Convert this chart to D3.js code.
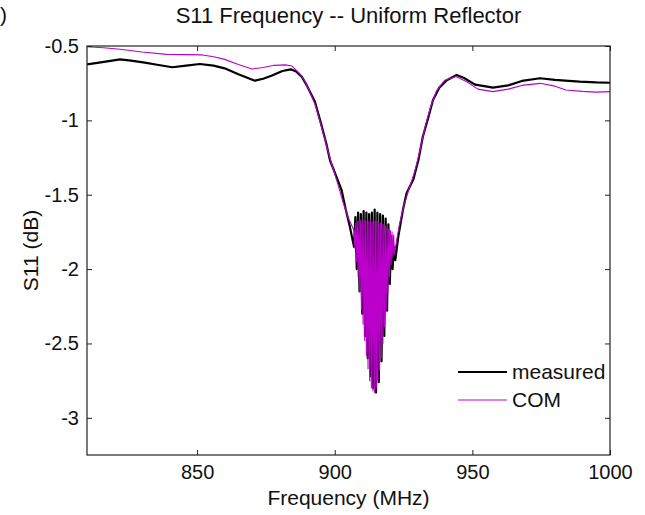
<!DOCTYPE html>
<html><head><meta charset="utf-8">
<script src="https://cdn.jsdelivr.net/npm/d3@7"></script>
<style>body{margin:0;background:#fff}svg{display:block}text{font-family:Arial,"Liberation Sans",sans-serif;fill:#111}</style>
</head><body><svg id="c" width="645" height="515"></svg>
<script>
// ---- data ----
const measuredFreq = [810,815,822,826,831,836,841,846,851,856,860,865,871,874,877,881,884,886,888,890,892.8,895,897,898.3,900,902.5,904,905.5,
 907.0,907.5,908.0,908.5,909.0,909.5,910.0,910.5,911.0,911.5,912.0,912.5,913.0,913.5,914.0,914.5,915.0,915.5,916.0,916.5,917.0,917.5,918.0,918.5,919.0,919.5,920.0,920.5,921.0,921.5,922.0,
 923.1,924.8,926.1,928.5,930.4,932,934,935.7,938,940.7,944.3,947,951,957.5,963,968,974.6,980,985,989,995,1000];
const measuredS11 = [-0.623,-0.61,-0.59,-0.598,-0.612,-0.628,-0.643,-0.632,-0.621,-0.632,-0.65,-0.69,-0.733,-0.72,-0.70,-0.668,-0.657,-0.672,-0.706,-0.77,-0.875,-1.02,-1.16,-1.27,-1.35,-1.47,-1.6,-1.716,
 -1.85,-1.65,-2.00,-1.62,-2.15,-1.63,-2.30,-1.61,-2.45,-1.62,-2.60,-1.63,-2.72,-1.62,-2.80,-1.60,-2.83,-1.62,-2.76,-1.63,-2.62,-1.64,-2.45,-1.66,-2.28,-1.70,-2.10,-1.78,-2.00,-1.85,-1.94,
 -1.78,-1.60,-1.49,-1.40,-1.267,-1.11,-0.98,-0.863,-0.78,-0.73,-0.695,-0.715,-0.76,-0.78,-0.765,-0.735,-0.717,-0.728,-0.735,-0.74,-0.745,-0.747];

const comFreq = [810,816,822,830,839,846,852,856,860,865,870,874,878,882,884.5,887,889,891,893,895,897,899,901,903,905,906.5,
 907.0,907.3,907.6,907.9,908.2,908.5,908.8,909.1,909.4,909.7,910.0,910.3,910.6,910.9,911.2,911.5,911.8,912.1,912.4,912.7,913.0,913.3,913.6,913.9,914.2,914.5,914.8,915.1,915.4,915.7,916.0,916.3,916.6,916.9,917.2,917.5,917.8,918.1,918.4,918.7,919.0,919.3,919.6,919.9,920.2,920.5,920.8,921.1,921.4,921.7,922.0,
 923.5,925,927,929,931,933,935,937,940,944,948,952,957.5,963,968,974.6,980,984,990,995,1000];
const comS11 = [-0.505,-0.512,-0.522,-0.54,-0.556,-0.558,-0.56,-0.572,-0.59,-0.625,-0.655,-0.645,-0.63,-0.627,-0.635,-0.68,-0.73,-0.81,-0.9,-1.03,-1.17,-1.3,-1.42,-1.55,-1.66,-1.72,
 -1.74,-1.86,-1.69,-1.95,-1.68,-2.05,-1.68,-2.15,-1.67,-2.27,-1.68,-2.37,-1.67,-2.48,-1.68,-2.58,-1.67,-2.67,-1.68,-2.75,-1.67,-2.80,-1.68,-2.82,-1.67,-2.83,-1.68,-2.80,-1.68,-2.74,-1.69,-2.68,-1.69,-2.60,-1.70,-2.50,-1.70,-2.39,-1.71,-2.28,-1.72,-2.16,-1.73,-2.05,-1.74,-1.97,-1.75,-1.92,-1.77,-1.90,-1.86,
 -1.70,-1.58,-1.46,-1.35,-1.2,-1.03,-0.9,-0.8,-0.73,-0.705,-0.74,-0.79,-0.807,-0.79,-0.765,-0.751,-0.77,-0.796,-0.805,-0.81,-0.807];

const xTicks = [850,900,950,1000];
const yTicks = [-3,-2.5,-2,-1.5,-1,-0.5];
const seriesNames = ["measured","COM"];
const seriesColors = ["#000000","#bb00cc"];

// ---- drawing ----
const svg = d3.select("#c");
const L=87, R=610, T=46, B=455;
const x = d3.scaleLinear().domain([810,1000]).range([L,R]);
const y = d3.scaleLinear().domain([-3.25,-0.5]).range([B,T]);

svg.append("clipPath").attr("id","pc").append("rect")
  .attr("x",L).attr("y",T).attr("width",R-L).attr("height",B-T);

const line = d3.line().x(d=>x(d[0])).y(d=>y(d[1]));
const mData = measuredFreq.map((f,i)=>[f,measuredS11[i]]);
const cData = comFreq.map((f,i)=>[f,comS11[i]]);

const g = svg.append("g").attr("clip-path","url(#pc)");
g.append("path").datum(mData).attr("d",line).attr("fill","none")
  .attr("stroke",seriesColors[0]).attr("stroke-width",2.2).attr("stroke-linejoin","round");
g.append("path").datum(cData).attr("d",line).attr("fill","none")
  .attr("stroke",seriesColors[1]).attr("stroke-width",1.1).attr("stroke-linejoin","round");

// axes (MATLAB style: inward ticks, box)
const ax = svg.append("g");
ax.append("g").attr("transform",`translate(0,${B})`)
  .call(d3.axisBottom(x).tickValues(xTicks).tickSize(-5).tickPadding(10).tickFormat(d3.format("d")));
ax.append("g").attr("transform",`translate(0,${T})`)
  .call(d3.axisTop(x).tickValues(xTicks).tickSize(-5).tickFormat(""));
ax.append("g").attr("transform",`translate(${L},0)`)
  .call(d3.axisLeft(y).tickValues(yTicks).tickSize(-5).tickPadding(8).tickFormat(d=>d3.format("")(d).replace("−","-")));
ax.append("g").attr("transform",`translate(${R},0)`)
  .call(d3.axisRight(y).tickValues(yTicks).tickSize(-5).tickFormat(""));
ax.selectAll(".domain").remove();
ax.selectAll(".tick line").attr("stroke","#222");
ax.selectAll(".tick text").attr("font-size",20).attr("fill","#111")
  .style("font-family","Arial, 'Liberation Sans', sans-serif");
svg.append("rect").attr("x",L).attr("y",T).attr("width",R-L).attr("height",B-T)
  .attr("fill","none").attr("stroke","#222").attr("stroke-width",1.2);

// titles
svg.append("text").attr("x",(L+R)/2).attr("y",23).attr("text-anchor","middle")
  .attr("font-size",22).text("S11 Frequency -- Uniform Reflector");
svg.append("text").attr("x",(L+R)/2).attr("y",505).attr("text-anchor","middle")
  .attr("font-size",21).text("Frequency (MHz)");
svg.append("text").attr("transform",`translate(38,${(T+B)/2}) rotate(-90)`).attr("text-anchor","middle")
  .attr("font-size",21).text("S11 (dB)");
svg.append("text").attr("x",0).attr("y",22).attr("font-size",21).text(")");

// legend
const lg = svg.append("g");
seriesNames.forEach((n,i)=>{
  const yy = 372 + i*28;
  lg.append("line").attr("x1",458).attr("x2",507).attr("y1",yy).attr("y2",yy)
    .attr("stroke",seriesColors[i]).attr("stroke-width",i===0?2.2:1.1);
  lg.append("text").attr("x",512).attr("y",yy+7).attr("font-size",21).text(n);
});
</script></body></html>
